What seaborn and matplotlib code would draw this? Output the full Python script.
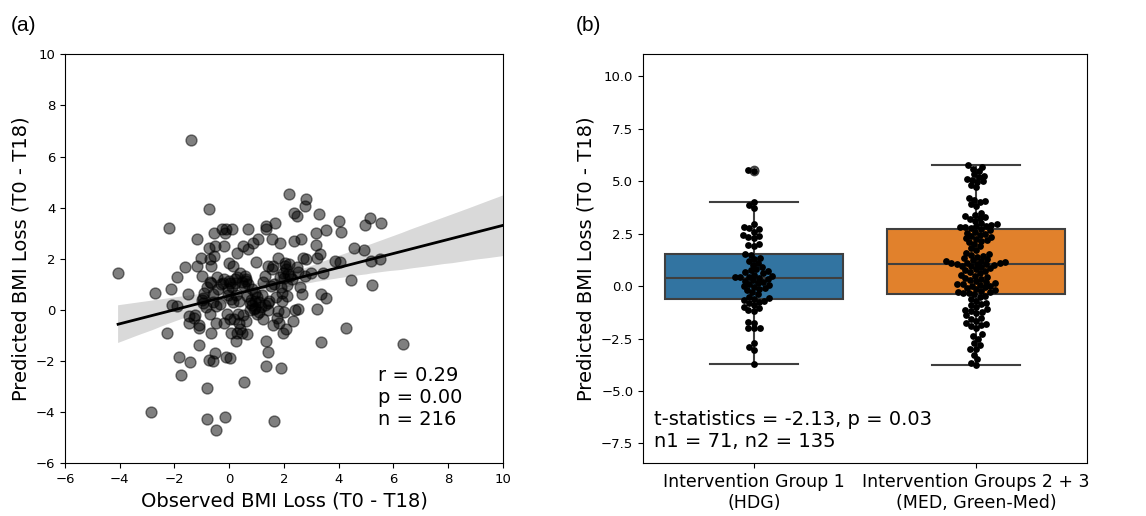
import numpy as np
import pandas as pd
import seaborn as sns
import matplotlib.pyplot as plt

# panel (a): observed vs predicted BMI loss
observed = [-1.40, -4.06, -2.72, -2.85, -2.20, -2.14, -2.26, -2.09, -1.89, -1.89,
            -1.85, -1.78, -1.61, -1.52, -1.42, -1.46, -1.48, -1.25, -1.19, -1.16,
            -1.12, -1.09, -1.02, -1.01, -0.97, -0.95, -0.92, -0.80, -0.80, -0.74,
            -0.73, -0.71, -0.67, -0.67, -0.71, -0.68, -0.74, -0.61, -0.55, -0.52,
            -0.55, -0.58, -0.50, -0.52, -0.49, -0.49, -0.34, -0.28, -0.17, -0.18,
            -0.12, -0.15, -0.10, 0.02, -0.24, -0.19, -0.07, -0.01, -0.06, 0.02,
            0.06, 0.02, 0.11, 0.15, 0.21, 0.19, 0.23, 0.27, 0.29, 0.32,
            0.36, 0.39, 0.41, 0.45, 0.50, 0.55, 0.57, 0.61, 0.63, 0.66,
            0.69, 0.67, 0.75, 0.82, 0.88, 0.94, 0.97, 0.94, 1.00, 1.06,
            1.09, 1.24, 1.30, 1.33, 1.33, 1.36, 1.36, 1.42, 1.42, 1.42,
            1.51, 1.58, 1.61, 1.63, 1.68, 1.79, 1.79, 1.82, 1.85, 1.89,
            1.91, 1.91, 1.95, 1.97, 2.01, 2.03, 2.07, 2.09, 2.12, 2.19,
            2.21, 2.34, 2.36, 2.37, 2.46, 2.46, 2.52, 2.64, 2.66, 2.69,
            2.75, 2.77, 2.79, 2.79, 2.99, 3.16, 3.16, 3.19, 3.19, 3.28,
            3.31, 3.35, 3.37, 3.41, 3.52, 3.55, 3.88, 4.01, 4.04, 4.10,
            4.28, 4.46, 4.55, 4.93, 4.96, 5.13, 5.19, 5.23, 5.50, 5.56,
            6.35,
            -0.30, -0.20, 0.00, 0.10, 0.20, 0.30, 0.45, 0.55, 0.60, 0.70,
            0.80, 0.85, 0.90, 1.00, 1.10, 1.15, 1.20, 1.25, 1.30, 1.40,
            1.45, 1.55, 1.65, 1.70, 1.75, 1.85, 1.90, 2.00, 2.05, 2.10,
            2.15, 2.20, 2.30, 2.40, 2.50, -0.40, -0.45, -0.60, -0.70, -0.85,
            -1.00, -1.10, -1.30, 0.35, 0.50, 0.65, 0.75, 0.95, 0.25, 0.15,
            -0.05, -0.80, 1.60, 2.60, 0.05]
predicted = [6.64, 1.46, 0.68, -3.99, 3.19, 0.83, -0.90, 0.20, 0.16, 1.30,
             -1.84, -2.53, 1.69, 0.61, -2.03, -0.23, -0.53, -0.21, 2.76, 1.72,
             -1.37, -0.72, 2.05, 1.33, 0.48, 0.29, 0.68, -3.04, -4.25, 3.96,
             2.44, 1.98, 1.72, 1.07, -0.17, -0.89, -1.96, -2.00, 3.02, 2.50,
             2.11, 0.61, -0.50, -1.67, -4.71, 0.16, 0.22, 3.16, 3.02, 2.50,
             3.16, -4.17, -1.83, -1.89, 1.07, -0.50, -0.17, 1.85, 0.81, 1.07,
             0.42, -0.37, 3.16, 1.72, 1.20, -0.37, -1.21, -0.89, 2.24, -0.17,
             0.35, 1.46, -0.76, -0.89, 2.50, -2.80, 1.33, 1.13, -0.43, -0.93,
             3.16, 2.37, 0.29, 0.81, 2.63, 0.68, 1.88, 0.09, -0.17, 2.76,
             -0.10, -0.37, 1.33, -1.21, 3.16, 3.29, -2.19, -1.64, 0.29, 1.72,
             0.94, 2.76, 1.72, -4.34, 3.39, 2.05, -0.04, -0.50, 2.63, -2.29,
             0.68, 0.35, -0.89, 1.46, -0.10, 1.85, 1.59, -0.76, 0.96, 4.52,
             1.33, -0.43, 3.81, 2.70, 3.68, 1.66, 0.03, 2.76, 0.61, 2.05,
             1.33, 4.07, 4.33, 2.01, 1.46, 3.02, 2.53, 0.03, 2.05, 3.77,
             2.18, -1.25, 0.61, 1.46, 3.13, 0.48, 1.92, 3.48, 1.88, 3.05,
             -0.72, 1.17, 2.44, 2.35, 3.31, 3.59, 1.92, 0.96, 2.01, 3.39,
             -1.32,
             1.00, 1.20, 1.15, 0.90, 1.05, 1.30, 1.10, 0.95, 1.20, 1.00,
             0.40, 0.20, 0.05, 0.50, 0.30, 0.10, 0.60, 1.10, 0.20, 0.00,
             0.35, 1.60, 1.00, 0.50, -0.30, 1.30, 0.90, 1.25, 1.70, 0.55,
             1.40, 1.80, 1.20, 0.00, 1.50, 0.80, 1.30, 0.30, 1.10, 0.10,
             0.40, -0.60, -0.30, -0.50, -0.20, 0.55, 0.00, 0.35, 0.60, 0.30,
             0.60, 0.90, -0.60, 0.90, -0.90]

# panel (b): predicted BMI loss per intervention group
group_labels = ['Intervention Group 1\n(HDG)', 'Intervention Groups 2 + 3\n(MED, Green-Med)']
group1 = [5.55, 5.50, 4.02, 3.85, 3.70, 2.95, 2.80, 2.75, 2.70, 2.60,
          2.45, 2.40, 2.35, 2.30, 2.00, 1.95, 1.90, 1.52, 1.50, 1.35,
          1.30, 1.20, 1.10, 1.00, 0.90, 0.80, 0.75, 0.70, 0.65, 0.60,
          0.55, 0.50, 0.45, 0.42, 0.41, 0.40, 0.35, 0.30, 0.25, 0.20,
          0.15, 0.10, 0.05, 0.00, -0.05, -0.10, -0.15, -0.20, -0.30, -0.40,
          -0.50, -0.55, -0.60, -0.65, -0.70, -0.75, -0.80, -0.90, -1.00, -1.05,
          -1.15, -1.20, -1.70, -1.75, -2.00, -2.00, -2.02, -2.70, -2.90, -3.05,
          -3.70]
group2 = [5.75, 5.70, 5.60, 5.50, 5.35, 5.25, 5.20, 5.10, 5.05, 5.00,
          4.95, 4.80, 4.70, 4.20, 4.10, 4.05, 4.00, 3.90, 3.80, 3.50,
          3.40, 3.35, 3.30, 3.25, 3.20, 3.10, 3.00, 2.95, 2.90, 2.85,
          2.85, 2.80, 2.80, 2.78, 2.70, 2.65, 2.60, 2.55, 2.50, 2.45,
          2.40, 2.35, 2.30, 2.25, 2.20, 2.15, 2.10, 2.00, 1.90, 1.80,
          1.70, 1.60, 1.55, 1.50, 1.45, 1.40, 1.35, 1.30, 1.25, 1.20,
          1.18, 1.15, 1.12, 1.10, 1.08, 1.07, 1.06, 1.05, 1.00, 0.98,
          0.95, 0.90, 0.85, 0.80, 0.75, 0.70, 0.65, 0.60, 0.55, 0.50,
          0.45, 0.40, 0.35, 0.30, 0.25, 0.20, 0.15, 0.12, 0.10, 0.05,
          0.02, 0.00, -0.05, -0.10, -0.15, -0.20, -0.25, -0.28, -0.30, -0.32,
          -0.34, -0.40, -0.45, -0.50, -0.60, -0.70, -0.80, -0.85, -0.90, -1.00,
          -1.10, -1.15, -1.20, -1.25, -1.30, -1.40, -1.50, -1.55, -1.65, -1.75,
          -1.80, -1.85, -1.90, -2.00, -2.30, -2.40, -2.50, -2.70, -2.80, -3.00,
          -3.00, -3.30, -3.50, -3.65, -3.75]

df_a = pd.DataFrame({'obs': observed, 'pred': predicted})
df_b = pd.DataFrame({'group': [group_labels[0]] * len(group1) + [group_labels[1]] * len(group2),
                     'pred': group1 + group2})

fig = plt.figure(figsize=(11.46, 5.16), dpi=100)

# (a) scatter + regression
ax1 = fig.add_axes([0.0567, 0.1021, 0.3822, 0.7927])
ax1.set_xlim(min(observed), 10)
sns.regplot(data=df_a, x='obs', y='pred', ax=ax1, truncate=False,
            color='black', scatter_kws={'s': 62, 'alpha': 0.5},
            line_kws={'linewidth': 2})
ax1.set_xlim(-6, 10)
ax1.set_ylim(-6, 10)
ax1.set_xticks(np.arange(-6, 11, 2))
ax1.set_yticks(np.arange(-6, 11, 2))
ax1.tick_params(labelsize=9.5)
ax1.set_xlabel('Observed BMI Loss (T0 - T18)', fontsize=14)
ax1.set_ylabel('Predicted BMI Loss (T0 - T18)', fontsize=14)
ax1.text(5.45, -3.43, 'r = 0.29\np = 0.00\nn = 216', fontsize=14, va='center')

# (b) box + swarm
ax2 = fig.add_axes([0.5611, 0.1021, 0.3874, 0.7927])
sns.boxplot(data=df_b, x='group', y='pred', hue='group', ax=ax2,
            palette=['#1f77b4', '#ff7f0e'], legend=False, width=0.8, linewidth=1.5)
n_before = len(ax2.collections)
sns.swarmplot(data=df_b, x='group', y='pred', ax=ax2, color='black', size=3.9)
ax2.set_ylim(-8.45, 11.05)
ax2.set_yticks(np.arange(-7.5, 10.1, 2.5))
ax2.tick_params(axis='y', labelsize=9.5)
ax2.tick_params(axis='x', labelsize=12.5)
ax2.set_xlabel('')
ax2.set_ylabel('Predicted BMI Loss (T0 - T18)', fontsize=14)
ax2.text(-0.45, -6.9, 't-statistics = -2.13, p = 0.03\nn1 = 71, n2 = 135',
         fontsize=14, va='center')

# the swarm in the original is packed tighter than the dot size: lay it out
# with small dots, then freeze the positions and enlarge the dots
fig.canvas.draw()
for coll in ax2.collections[n_before:]:
    if 'draw' in coll.__dict__:
        del coll.draw
    coll.set_sizes([24])

fig.text(0.009, 0.95, '(a)', fontsize=15, va='center', family='Liberation Sans')
fig.text(0.502, 0.95, '(b)', fontsize=15, va='center', family='Liberation Sans')

fig.savefig('out.png', dpi=100)
